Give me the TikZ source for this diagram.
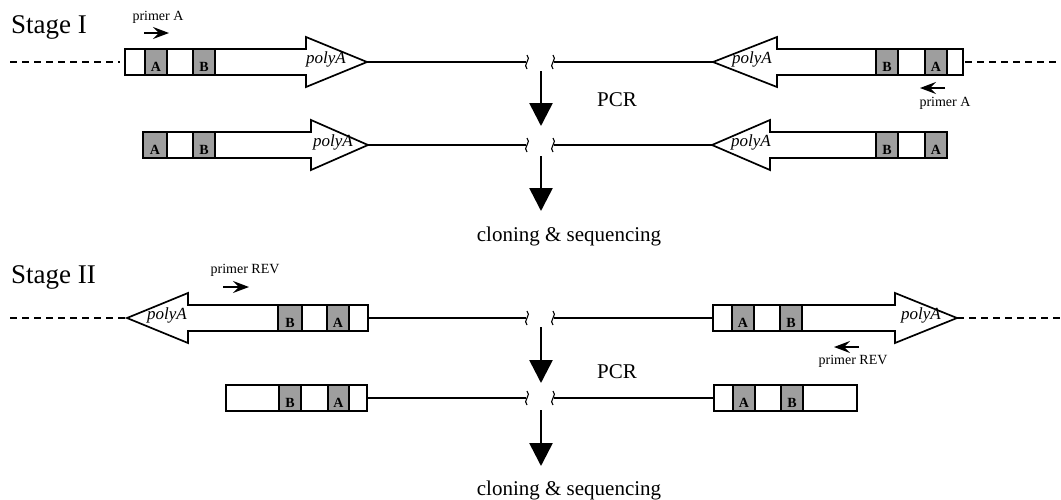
\documentclass[tikz,border=0pt]{standalone}
\usepackage{fontspec}
\setmainfont{Liberation Serif}
\usetikzlibrary{arrows.meta}
\tikzset{
  gene/.style={draw=black, line width=1.7pt, fill=white, line join=miter},
  segfill/.style={draw=black, line width=1.7pt, fill=black!38},
  segwhite/.style={draw=black, line width=1.7pt, fill=white},
  seglabel/.style={font=\fontsize{14}{14}\selectfont\bfseries, inner sep=0pt},
  dnaline/.style={line width=2.3pt},
  dashline/.style={line width=1.3pt, dash pattern=on 7pt off 5pt},
  squig/.style={line width=1.1pt},
  bigarrow/.style={line width=2.6pt, -{Triangle[length=23pt,width=23pt]}},
  primerarrow/.style={line width=1.4pt, -{Stealth[length=16pt,width=12pt,inset=6pt]}},
  primertext/.style={font=\fontsize{14}{14}\selectfont, inner sep=0pt},
  polya/.style={font=\fontsize{17}{17}\selectfont\itshape, inner sep=0pt},
  stagetext/.style={font=\fontsize{27}{27}\selectfont, inner sep=0pt, anchor=west},
  steptext/.style={font=\fontsize{21}{21}\selectfont, inner sep=0pt},
}
% forward gene: x0, xbase, xtip, y
\newcommand{\fwdgene}[4]{\draw[gene] (#1,#4-13) -- (#2,#4-13) -- (#2,#4-25) -- (#3,#4) -- (#2,#4+25) -- (#2,#4+13) -- (#1,#4+13) -- cycle;}
% reverse gene: xtip, xbase, x1, y
\newcommand{\revgene}[4]{\draw[gene] (#3,#4-13) -- (#2,#4-13) -- (#2,#4-25) -- (#1,#4) -- (#2,#4+25) -- (#2,#4+13) -- (#3,#4+13) -- cycle;}
% shaded segment: x0, x1, y, label
\newcommand{\segbox}[4]{\draw[segfill] (#1,#3-13) rectangle (#2,#3+13); \node[seglabel] at ({(#1+#2)/2},#3+5) {#4};}
% break squiggle at x,y
\newcommand{\brk}[2]{\draw[squig] (#1,#2-7) .. controls (#1+5,#2-3) and (#1-5,#2+3) .. (#1,#2+7);}
\begin{document}
\begin{tikzpicture}[x=1pt,y=-1pt]
\useasboundingbox (0,0) rectangle (1061,499);

% ---------------- Stage I ----------------
\node[stagetext] (s1) at (11,27) {Stage I};

% row 1
\draw[dashline] (10,62) -- (120,62);
\draw[dashline] (965,62) -- (1061,62);
\coordinate (r1l) at (367,62);
\coordinate (r1bl) at (526,62);
\coordinate (r1br) at (554,62);
\coordinate (r1r) at (713,62);
\draw[dnaline] (r1l) -- (r1bl);
\draw[dnaline] (r1br) -- (r1r);
\brk{527}{62}\brk{553}{62}
\fwdgene{125}{306}{367}{62}
\segbox{145}{167}{62}{A}
\segbox{193}{215}{62}{B}
\node[polya] (p1) at (326,59) {polyA};
\revgene{713}{777}{963}{62}
\segbox{876}{898}{62}{B}
\segbox{925}{947}{62}{A}
\node[polya] (p2) at (752,59) {polyA};

% primers
\node[primertext] (pa1) at (158,17) {primer A};
\coordinate (pa1s) at (144,33); \coordinate (pa1e) at (169,33);
\draw[primerarrow] (pa1s) -- (pa1e);
\coordinate (pa2s) at (945,88); \coordinate (pa2e) at (920,88);
\draw[primerarrow] (pa2s) -- (pa2e);
\node[primertext] (pa2) at (945,103) {primer A};

% PCR arrow
\coordinate (d1a) at (541,71); \coordinate (d1b) at (541,126);
\draw[bigarrow] (d1a) -- (d1b);
\node[steptext] (pcr1) at (617,100) {PCR};

% row 2
\coordinate (r2l) at (368,145);
\coordinate (r2bl) at (526,145);
\coordinate (r2br) at (554,145);
\coordinate (r2r) at (712,145);
\draw[dnaline] (r2l) -- (r2bl);
\draw[dnaline] (r2br) -- (r2r);
\brk{527}{145}\brk{553}{145}
\fwdgene{143}{311}{368}{145}
\segbox{143}{167}{145}{A}
\segbox{193}{215}{145}{B}
\node[polya] (p3) at (333,142) {polyA};
\revgene{712}{770}{947}{145}
\segbox{876}{898}{145}{B}
\draw[segwhite] (898,132) rectangle (925,158);
\segbox{925}{947}{145}{A}
\node[polya] (p4) at (751,142) {polyA};

\coordinate (d2a) at (541,156); \coordinate (d2b) at (541,211);
\draw[bigarrow] (d2a) -- (d2b);
\node[steptext] (cs1) at (569,236) {cloning \& sequencing};

% ---------------- Stage II ----------------
\node[stagetext] (s2) at (11,277) {Stage II};

\draw[dashline] (10,318) -- (127,318);
\draw[dashline] (957,318) -- (1061,318);
\coordinate (r3l) at (368,318);
\coordinate (r3bl) at (526,318);
\coordinate (r3br) at (554,318);
\coordinate (r3r) at (713,318);
\draw[dnaline] (r3l) -- (r3bl);
\draw[dnaline] (r3br) -- (r3r);
\brk{527}{318}\brk{553}{318}
\revgene{127}{188}{368}{318}
\segbox{278}{302}{318}{B}
\segbox{327}{349}{318}{A}
\node[polya] (p5) at (167,315) {polyA};
\fwdgene{713}{895}{957}{318}
\segbox{732}{754}{318}{A}
\segbox{780}{802}{318}{B}
\node[polya] (p6) at (921,315) {polyA};

\node[primertext] (pr1) at (245,270) {primer REV};
\coordinate (pr1s) at (223,287); \coordinate (pr1e) at (249,287);
\draw[primerarrow] (pr1s) -- (pr1e);
\coordinate (pr2s) at (859,347); \coordinate (pr2e) at (834,347);
\draw[primerarrow] (pr2s) -- (pr2e);
\node[primertext] (pr2) at (853,361) {primer REV};

\coordinate (d3a) at (541,327); \coordinate (d3b) at (541,383);
\draw[bigarrow] (d3a) -- (d3b);
\node[steptext] (pcr2) at (617,372) {PCR};

% row 4
\coordinate (r4l) at (367,398);
\coordinate (r4bl) at (526,398);
\coordinate (r4br) at (554,398);
\coordinate (r4r) at (714,398);
\draw[dnaline] (r4l) -- (r4bl);
\draw[dnaline] (r4br) -- (r4r);
\brk{527}{398}\brk{553}{398}
\draw[segwhite] (226,385) rectangle (367,411);
\segbox{279}{301}{398}{B}
\segbox{328}{349}{398}{A}
\draw[segwhite] (714,385) rectangle (857,411);
\segbox{733}{755}{398}{A}
\segbox{781}{803}{398}{B}

\coordinate (d4a) at (541,410); \coordinate (d4b) at (541,466);
\draw[bigarrow] (d4a) -- (d4b);
\node[steptext] (cs2) at (569,490) {cloning \& sequencing};
\end{tikzpicture}
\end{document}
